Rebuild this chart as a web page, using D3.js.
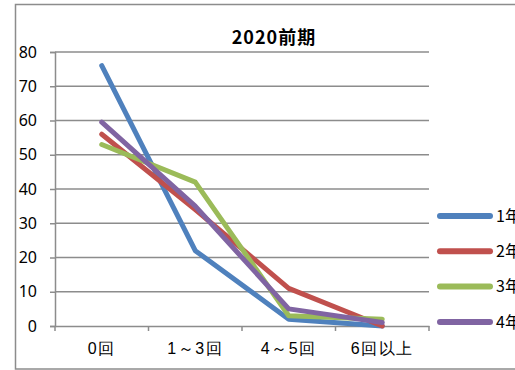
<!DOCTYPE html>
<html lang="ja">
  <head>
    <meta charset="UTF-8" />
    <title>2020前期</title>
    <style>
      body { margin: 0; background: #fff; overflow: hidden; }
      svg { display: block; font-family: "Noto Sans CJK JP", "Noto Sans", sans-serif; }
    </style>
  </head>
  <body>
    <div id="chart"></div>
    <script src="https://cdn.jsdelivr.net/npm/d3@7"></script>
    <script>
      // data
      var categories = ["0回", "1～3回", "4～5回", "6回以上"];
      var seriesNames = ["1年生", "2年生", "3年生", "4年生"];
      var grade1 = [76, 22, 2, 0];
      var grade2 = [56, 34, 11, 0];
      var grade3 = [53, 42, 3, 2];
      var grade4 = [59.5, 35, 5, 1];
      var yTicks = [0, 10, 20, 30, 40, 50, 60, 70, 80];
      var colors = ["#4F81BD", "#C0504D", "#9BBB59", "#8064A2"];

      var series = [grade1, grade2, grade3, grade4];

      var w = 515,
          h = 370;
      var plot = { left: 55, right: 429, top: 52, bottom: 326 };

      var svg = d3.select("#chart").append("svg")
        .attr("width", w)
        .attr("height", h);

      // outer chart frame
      svg.append("rect")
        .attr("x", 15.5).attr("y", 4.5)
        .attr("width", 520).attr("height", 364.5)
        .attr("fill", "#fff")
        .attr("stroke", "#8c8c8c")
        .attr("stroke-width", 1.5);

      var xScale = d3.scaleBand()
        .domain(categories)
        .range([plot.left, plot.right]);
      var yScale = d3.scaleLinear()
        .domain([0, 80])
        .range([plot.bottom, plot.top]);

      // gridlines
      svg.append("g")
        .selectAll("line")
        .data(yTicks.filter(function(d) { return d > 0; }))
        .enter()
        .append("line")
        .attr("x1", plot.left).attr("x2", plot.right)
        .attr("y1", function(d) { return yScale(d); })
        .attr("y2", function(d) { return yScale(d); })
        .attr("stroke", "#8c8c8c")
        .attr("stroke-width", 1.5);

      var yAxis = d3.axisLeft(yScale)
        .tickValues(yTicks)
        .tickSize(5)
        .tickPadding(13);
      var yg = svg.append("g")
        .attr("transform", "translate(" + plot.left + ",0)")
        .call(yAxis);
      yg.selectAll("line, path").attr("stroke", "#8c8c8c").attr("stroke-width", 1.5);
      yg.selectAll("text").attr("font-size", 16).attr("fill", "#000")
        .attr("font-family", "'Noto Sans', sans-serif");

      var xAxis = d3.axisBottom(xScale)
        .tickSize(0)
        .tickPadding(17);
      var xg = svg.append("g")
        .attr("transform", "translate(0," + plot.bottom + ")")
        .call(xAxis);
      xg.select(".domain").attr("stroke", "#8c8c8c").attr("stroke-width", 1.5);
      xg.selectAll("text").attr("font-size", 16).attr("fill", "#000")
        .attr("letter-spacing", 1.5);

      // category boundary ticks
      var bounds = categories.map(function(c) { return xScale(c); }).concat([plot.right]);
      xg.selectAll(".bound")
        .data(bounds)
        .enter()
        .append("line")
        .attr("class", "bound")
        .attr("x1", function(d) { return d; }).attr("x2", function(d) { return d; })
        .attr("y1", 0).attr("y2", 5)
        .attr("stroke", "#8c8c8c")
        .attr("stroke-width", 1.5);

      var line = d3.line()
        .x(function(d, i) { return xScale(categories[i]) + xScale.bandwidth() / 2; })
        .y(function(d) { return yScale(d); });

      svg.selectAll(".series")
        .data(series)
        .enter()
        .append("path")
        .attr("class", "series")
        .attr("d", line)
        .attr("fill", "none")
        .attr("stroke", function(d, i) { return colors[i]; })
        .attr("stroke-width", 5)
        .attr("stroke-linejoin", "round")
        .attr("stroke-linecap", "round");

      // title
      svg.append("text")
        .attr("x", 274)
        .attr("y", 44)
        .attr("text-anchor", "middle")
        .attr("font-size", 18)
        .attr("font-weight", "bold")
        .attr("letter-spacing", 1)
        .text("2020前期");

      // legend (text runs off the right edge, as in the original)
      var legend = svg.selectAll(".legend")
        .data(seriesNames)
        .enter()
        .append("g")
        .attr("class", "legend")
        .attr("transform", function(d, i) { return "translate(438," + (216 + i * 35.3) + ")"; });
      legend.append("line")
        .attr("x1", 2).attr("x2", 52)
        .attr("stroke", function(d, i) { return colors[i]; })
        .attr("stroke-width", 6)
        .attr("stroke-linecap", "round");
      legend.append("text")
        .attr("x", 58)
        .attr("dy", "0.35em")
        .attr("font-size", 16)
        .text(function(d) { return d; });
    </script>
  </body>
</html>
